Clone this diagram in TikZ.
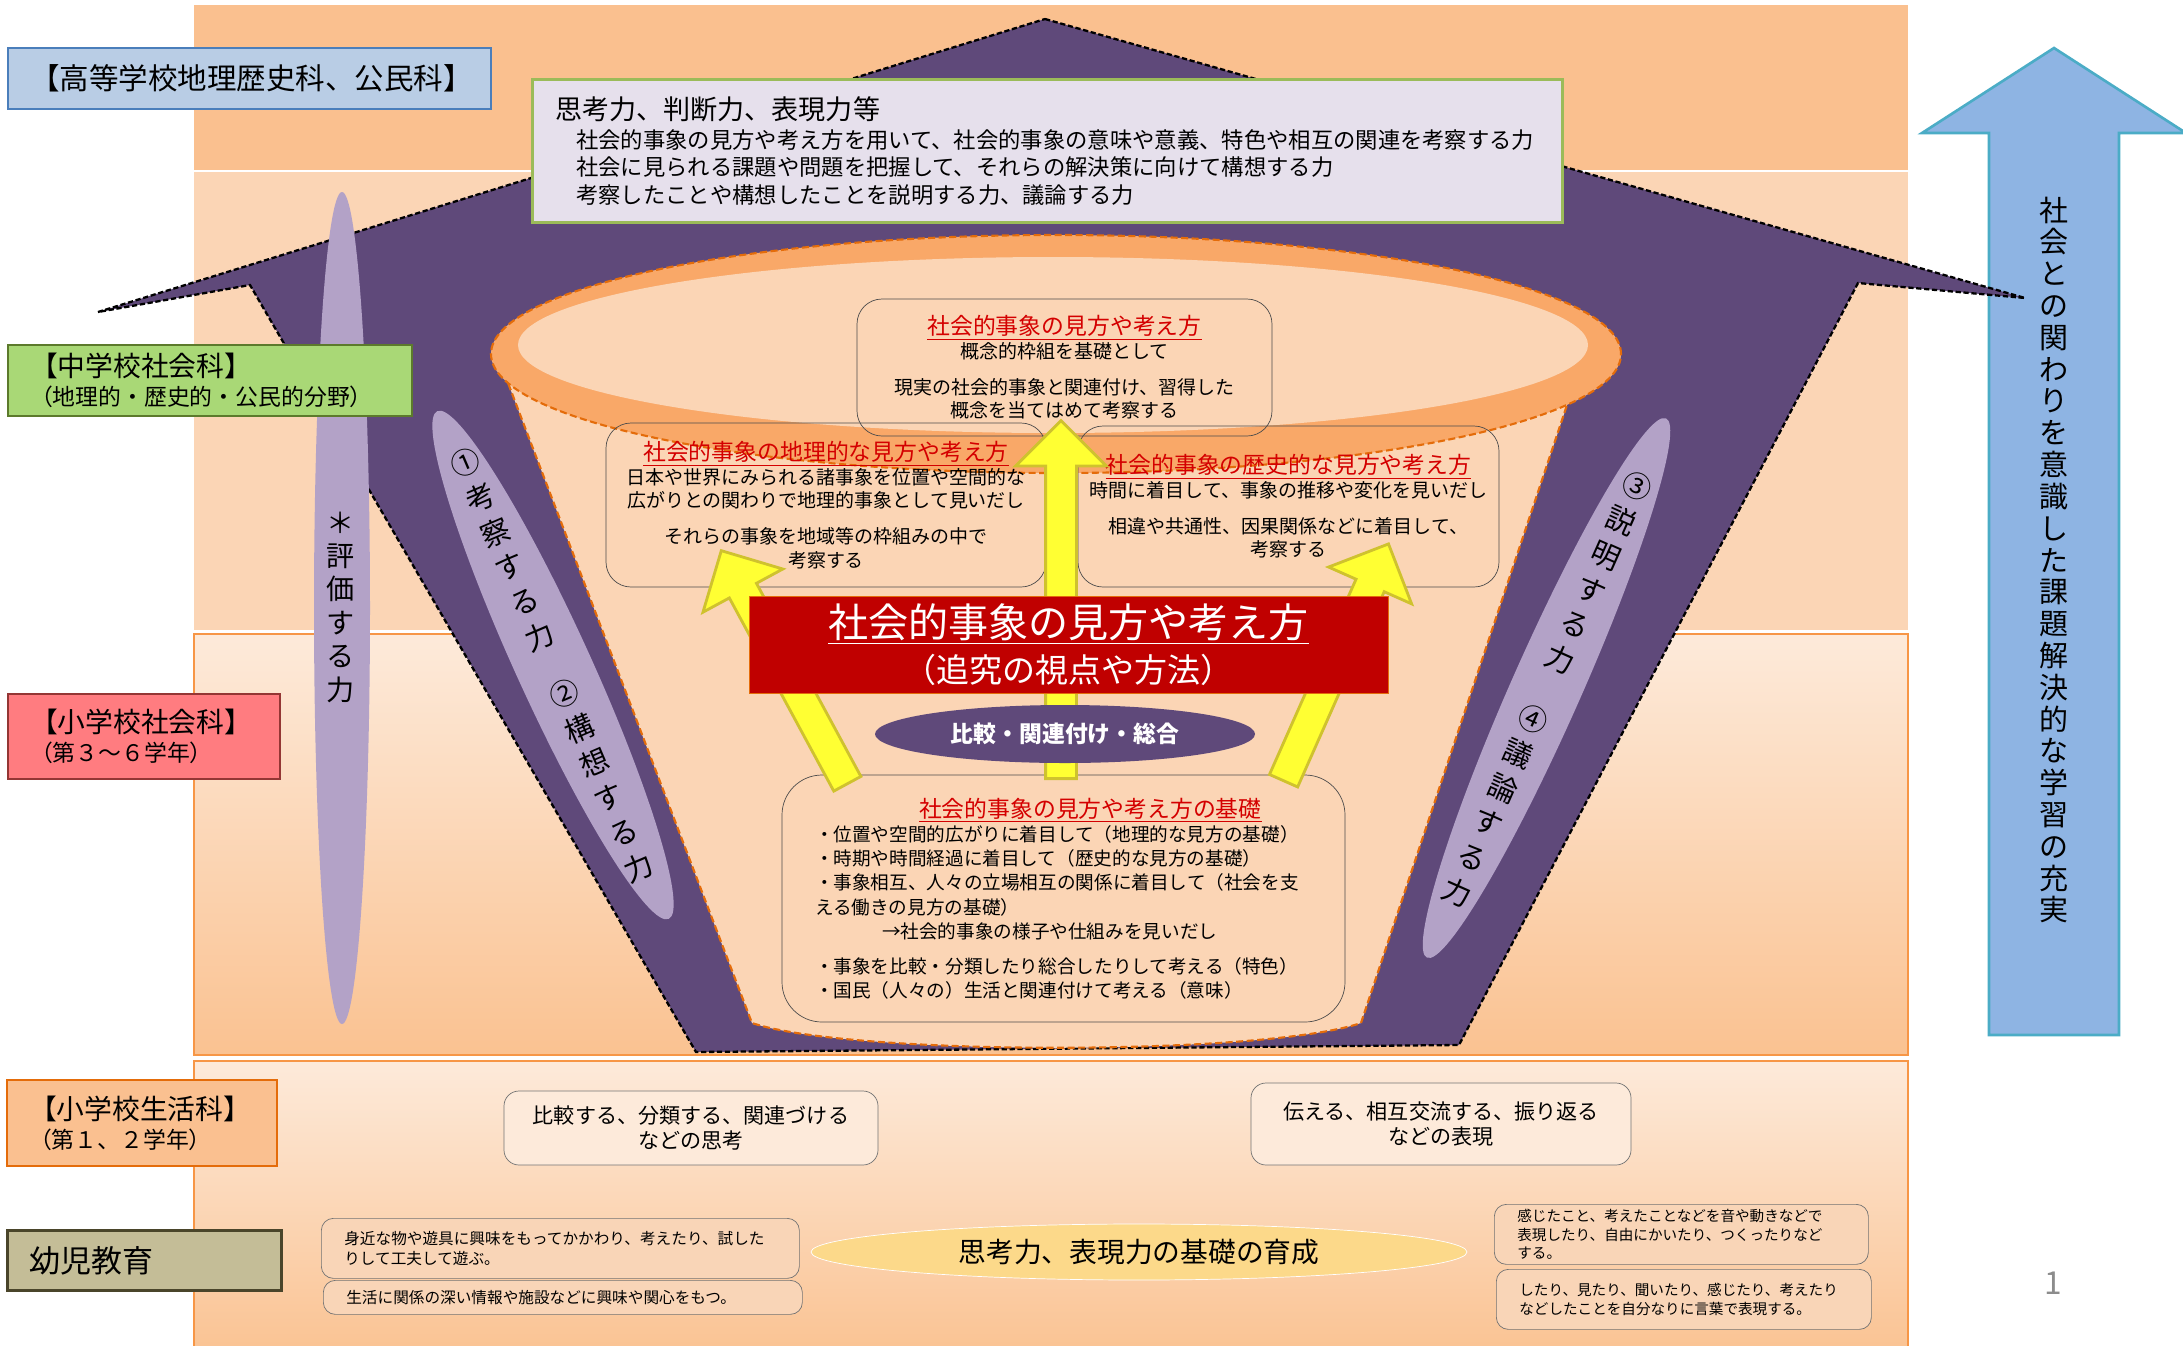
\documentclass[tikz,border=0pt]{standalone}
\usepackage{fontspec}
\setmainfont{Noto Sans CJK JP}
\usetikzlibrary{shapes.geometric,shapes.arrows}

\definecolor{bandtop}{HTML}{FAC08F}
\definecolor{bandmid}{HTML}{FBD5B5}
\definecolor{bandlow}{HTML}{FDEADA}
\definecolor{bandfoot}{HTML}{FAC291}
\definecolor{bandedge}{HTML}{F79646}
\definecolor{wallpurple}{HTML}{5F497A}
\definecolor{lilac}{HTML}{B3A2C7}
\definecolor{ringorange}{HTML}{F9A868}
\definecolor{darkorange}{HTML}{E46C0A}
\definecolor{boxlavender}{HTML}{E6E0EC}
\definecolor{boxgreen}{HTML}{9BBB59}
\definecolor{arrowblue}{HTML}{8EB4E3}
\definecolor{arrowteal}{HTML}{4BACC6}
\definecolor{lemon}{HTML}{FFFF33}
\definecolor{lemonedge}{HTML}{CFC22E}
\definecolor{deepred}{HTML}{C00000}
\definecolor{titlered}{HTML}{D40000}
\definecolor{hsblue}{HTML}{B9CDE5}
\definecolor{hsedge}{HTML}{4A7EBB}
\definecolor{msgreen}{HTML}{A9D876}
\definecolor{msedge}{HTML}{5C7A2C}
\definecolor{espink}{HTML}{FF7C80}
\definecolor{esedge}{HTML}{943634}
\definecolor{lsorange}{HTML}{FAC090}
\definecolor{yjolive}{HTML}{C4BD97}
\definecolor{yjedge}{HTML}{4A452A}
\definecolor{gold}{HTML}{FCD98A}
\definecolor{smallpeach}{HTML}{F9D5B7}

\newcommand\ctitle[1]{{\fontsize{13}{15}\selectfont\color{titlered}\underline{#1}}}

\begin{document}
\begin{tikzpicture}[x=0.2mm,y=-0.2mm,
  lbl/.style={draw,line width=1.2pt,anchor=north west,inner xsep=4.4mm,align=left,font=\fontsize{15.8}{16.5}\selectfont},
  cbox/.style={draw=black!70,thin,rounded corners=5mm,align=center,font=\fontsize{10.8}{13.4}\selectfont},
  rbox/.style={draw=black!55,fill=bandlow,rounded corners=3mm,align=center,font=\fontsize{12}{14.2}\selectfont},
  sbox/.style={draw=black!55,fill=smallpeach,rounded corners=2.4mm,anchor=north west,align=left,inner xsep=4.6mm,inner ysep=0.5mm,font=\fontsize{8.9}{11.4}\selectfont},
  yarrow/.style={single arrow,draw=lemonedge,fill=lemon,line width=1.6pt,inner xsep=0pt,inner ysep=2.8mm,single arrow head extend=6mm,anchor=tail},
  lilacoval/.style={ellipse,fill=lilac,inner sep=0pt},
  tate/.style={align=center,inner sep=0pt,font=\fontsize{16.5}{21.5}\selectfont}
]
\useasboundingbox (0,0) rectangle (2183,1345);

\fill[bandtop] (194,5) rectangle (1908,170);
\fill[bandmid] (194,172) rectangle (1908,630);
\draw[bandedge,line width=1.2pt,top color=bandlow,middle color=bandlow,bottom color=bandfoot] (194,634) rectangle (1908,1055);
\draw[bandedge,line width=1.2pt,top color=bandlow,middle color=bandlow,bottom color=bandfoot] (194,1061) rectangle (1908,1360);

\draw[fill=arrowblue,draw=arrowteal,line width=1.5pt] (1989,1035) -- (1989,133) -- (1922,133) -- (2054,48) -- (2186,133) -- (2119,133) -- (2119,1035) -- cycle;
\node[align=center,inner sep=0pt,font=\fontsize{16.5}{18.1}\selectfont] (goal) at (2054,560) {社\\会\\と\\の\\関\\わ\\り\\を\\意\\識\\し\\た\\課\\題\\解\\決\\的\\な\\学\\習\\の\\充\\実};

\draw[fill=wallpurple,draw=black,line width=1.3pt,dash pattern=on 3pt off 1.5pt] (1045,19) -- (2025,298) -- (1858,283) -- (1459,1045) -- (696,1052) -- (250,285) -- (98,312) -- cycle;

\draw[fill=bandmid,draw=darkorange,line width=1.2pt,dash pattern=on 4pt off 2pt] (497,354) -- (752,1023) .. controls (850,1056) and (1263,1056) .. (1361,1023) -- (1584,354) -- cycle;
\draw[fill=ringorange,draw=darkorange,line width=1.2pt,dash pattern=on 4pt off 2pt] (1056,354) ellipse [x radius=113mm,y radius=23.8mm];
\fill[bandmid] (1053,345) ellipse [x radius=107mm,y radius=17.6mm];

\node[lilacoval,minimum width=11.2mm,minimum height=166.4mm] (judge) at (342,608) {};
\node[tate,font=\fontsize{16}{19}\selectfont] (judgetxt) at (341,607) {＊\\評\\価\\す\\る\\力};
\node[lilacoval,minimum width=111.6mm,minimum height=15mm,rotate=-65.5] (think) at (553,665) {};
\node[tate,rotate=23.2] (thinktxt) at (552,665) {①\\考\\察\\す\\る\\力\\[14pt]②\\構\\想\\す\\る\\力};
\node[lilacoval,minimum width=118mm,minimum height=14mm,rotate=66.1] (tell) at (1546.5,688) {};
\node[tate,rotate=-23.9] (telltxt) at (1547,689) {③\\説\\明\\す\\る\\力\\[16pt]④\\議\\論\\す\\る\\力};

\node[cbox,minimum width=83mm,minimum height=27.4mm] (view) at (1064.5,367.5) {\ctitle{社会的事象の見方や考え方}\\概念的枠組を基礎として\\[7pt]現実の社会的事象と関連付け、習得した\\概念を当てはめて考察する};
\node[cbox,minimum width=88mm,minimum height=32.8mm] (geo) at (826,505) {\ctitle{社会的事象の地理的な見方や考え方}\\日本や世界にみられる諸事象を位置や空間的な\\広がりとの関わりで地理的事象として見いだし\\[7pt]それらの事象を地域等の枠組みの中で\\考察する};
\node[cbox,minimum width=84.2mm,minimum height=32.2mm] (hist) at (1288.5,506.5) {\ctitle{社会的事象の歴史的な見方や考え方}\\時間に着目して、事象の推移や変化を見いだし\\[7pt]相違や共通性、因果関係などに着目して、\\考察する};
\node[cbox,rounded corners=8mm,minimum width=112.6mm,minimum height=49.4mm,text width=99.4mm,inner xsep=6.6mm,align=left,font=\fontsize{10.6}{13.8}\selectfont] (basis) at (1063.5,898.5) {\hspace*{20.8mm}\ctitle{社会的事象の見方や考え方の基礎}\\
・位置や空間的広がりに着目して（地理的な見方の基礎）\\
・時期や時間経過に着目して（歴史的な見方の基礎）\\
・事象相互、人々の立場相互の関係に着目して（社会を支\\
える働きの見方の基礎）\\
\hspace*{13.4mm}→社会的事象の様子や仕組みを見いだし\\[6pt]
・事象を比較・分類したり総合したりして考える（特色）\\
・国民（人々の）生活と関連付けて考える（意味）};

\node[yarrow,minimum height=71.6mm,rotate=90] (upC) at (1061,780) {};
\node[yarrow,minimum height=53mm,rotate=118.4] (upL) at (848,785) {};
\node[yarrow,minimum height=51.8mm,rotate=66.1] (upR) at (1283,782) {};

\node[fill=deepred,draw=darkorange,thin,minimum width=127.8mm,minimum height=19.4mm,text=white,align=center,font=\fontsize{22.8}{25.6}\selectfont] (lens) at (1068.5,644.5) {\underline{社会的事象の見方や考え方}\\{\fontsize{18.8}{21}\selectfont（追究の視点や方法）}};
\node[ellipse,fill=wallpurple,minimum width=76mm,minimum height=11.6mm,inner sep=0pt,text=white,font=\bfseries\fontsize{13}{15}\selectfont] (ways) at (1065,734) {比較・関連付け・総合};

\node[draw=boxgreen,fill=boxlavender,line width=1.5pt,anchor=north west,minimum width=206mm,minimum height=28.6mm,text width=196.8mm,inner xsep=4.6mm,align=left,font=\fontsize{12.7}{15.6}\selectfont] (skill) at (531,78) {{\fontsize{15.4}{17}\selectfont 思考力、判断力、表現力等}\\[1pt]
\hspace*{4.2mm}社会的事象の見方や考え方を用いて、社会的事象の意味や意義、特色や相互の関連を考察する力\\
\hspace*{4.2mm}社会に見られる課題や問題を把握して、それらの解決策に向けて構想する力\\
\hspace*{4.2mm}考察したことや構想したことを説明する力、議論する力};

\node[lbl,draw=hsedge,fill=hsblue,minimum width=96.6mm,minimum height=12.2mm,text width=87.8mm,font=\fontsize{16.8}{18}\selectfont] (hs) at (7,47) {【高等学校地理歴史科、公民科】};
\node[lbl,draw=msedge,fill=msgreen,minimum width=80.8mm,minimum height=14.2mm,text width=72mm] (ms) at (7,344) {【中学校社会科】\\{\fontsize{13}{14}\selectfont （地理的・歴史的・公民的分野）}};
\node[lbl,draw=esedge,fill=espink,minimum width=54.4mm,minimum height=17mm,text width=45.6mm] (es) at (7,693) {【小学校社会科】\\{\fontsize{13}{14}\selectfont （第３～６学年）}};
\node[lbl,draw=darkorange,fill=lsorange,minimum width=54mm,minimum height=17.2mm,text width=45.2mm] (ls) at (6,1079) {【小学校生活科】\\{\fontsize{13}{14}\selectfont （第１、２学年）}};
\node[lbl,draw=yjedge,fill=yjolive,line width=1.8pt,minimum width=54.8mm,minimum height=12mm,text width=46mm,font=\fontsize{17.6}{19}\selectfont] (yj) at (6,1229) {幼児教育};

\node[rbox,minimum width=74.8mm,minimum height=14.8mm] (compare) at (691,1128) {比較する、分類する、関連づける\\などの思考};
\node[rbox,minimum width=76mm,minimum height=16.4mm] (express) at (1441,1124) {伝える、相互交流する、振り返る\\などの表現};

\node[ellipse,fill=gold,draw=white,minimum width=131.2mm,minimum height=11.2mm,inner sep=0pt,font=\fontsize{15.8}{18}\selectfont] (root) at (1139,1252) {思考力、表現力の基礎の育成};

\node[sbox,minimum width=95.6mm,minimum height=12mm,text width=86.4mm] (play) at (321,1218) {身近な物や遊具に興味をもってかかわり、考えたり、試した\\りして工夫して遊ぶ。};
\node[sbox,minimum width=95.8mm,minimum height=6.8mm,text width=86.6mm] (interest) at (323,1280) {生活に関係の深い情報や施設などに興味や関心をもつ。};
\node[sbox,minimum width=74.8mm,minimum height=12mm,text width=65.6mm,font=\fontsize{8.3}{10.6}\selectfont] (feel) at (1494,1204) {感じたこと、考えたことなどを音や動きなどで\\表現したり、自由にかいたり、つくったりなど\\する。};
\node[sbox,minimum width=75mm,minimum height=12mm,text width=65.8mm,font=\fontsize{8.3}{10.6}\selectfont] (speak) at (1496,1269) {したり、見たり、聞いたり、感じたり、考えたり\\などしたことを自分なりに言葉で表現する。};

\node[text=black!45,font=\fontsize{18}{20}\selectfont] (pageno) at (2053,1283) {1};
\end{tikzpicture}
\end{document}
